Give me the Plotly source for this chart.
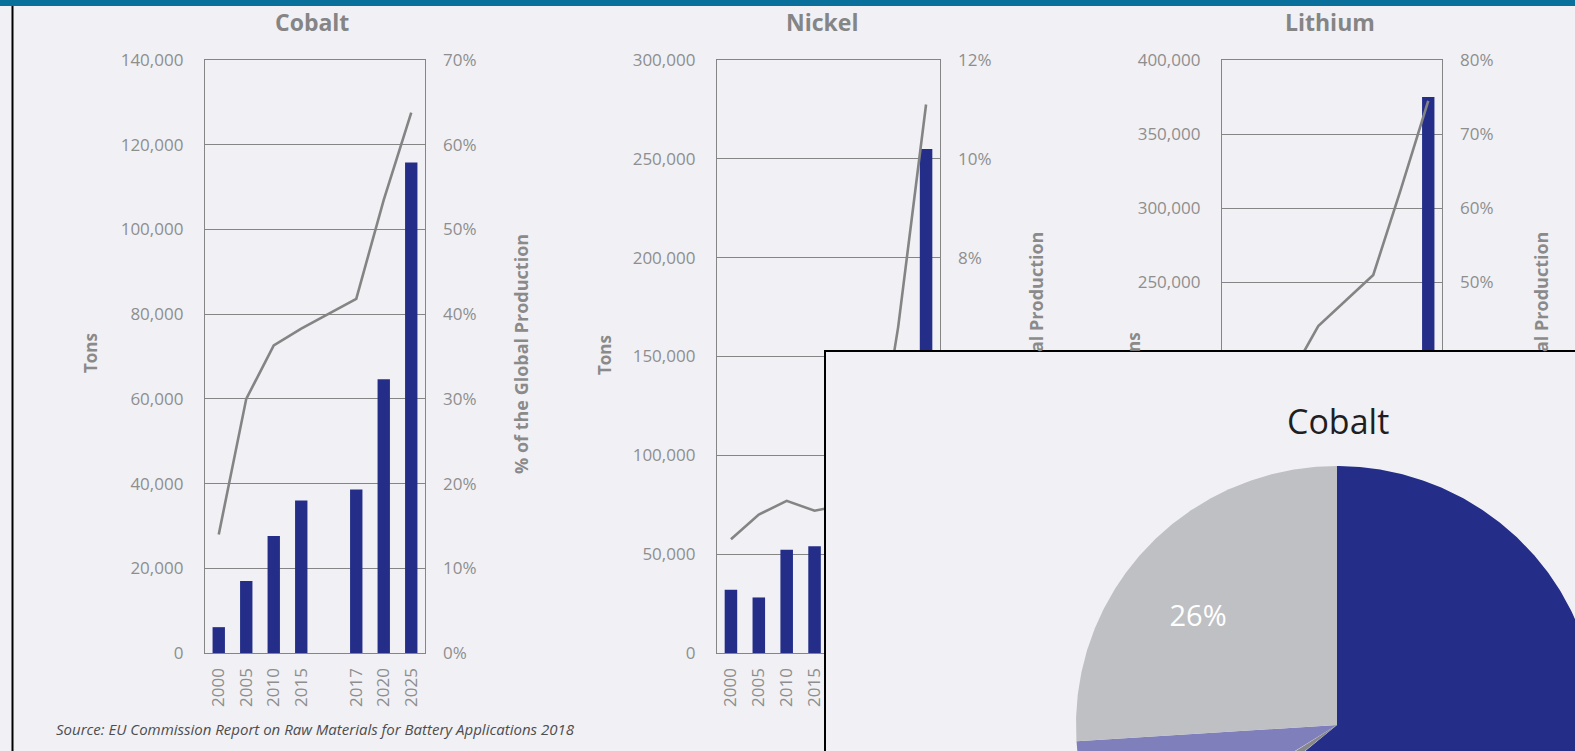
import math
import plotly.graph_objects as go

W, H = 1575, 751
BG = "#f1f1f5"
NAVY = "#242e88"
LINE = "#848484"
GRID = "#858585"
TICK = "#8e8e8e"
FONT = "Open Sans"

# ---------------- data ----------------
years = ["2000", "2005", "2010", "2015", "2017", "2020", "2025"]
categories = ["2000", "2005", "2010", "2015", " ", "2017", "2020", "2025"]

minerals = ["Cobalt", "Nickel", "Lithium"]
cobalt_tons = [6100, 17000, 27600, 36000, 38600, 64600, 115800]
cobalt_share = [14.0, 30.0, 36.3, 38.3, 41.8, 53.5, 63.8]
nickel_tons = [32000, 28100, 52200, 54000, 60000, 115000, 255000]
nickel_share = [2.3, 2.8, 3.08, 2.88, 3.1, 6.6, 11.1]
lithium_tons = [20000, 25000, 30000, 42000, 50000, 110000, 375000]
lithium_share = [20.0, 28.0, 37.5, 44.1, 51.0, 62.5, 74.5]

tons_max = [140000, 300000, 400000]
tons_step = [20000, 50000, 50000]
share_max = [70, 12, 80]
share_step = [10, 2, 10]

pie_title = "Cobalt"
pie_labels = ["Batteries", "Slice B", "Slice C", "Other"]
pie_values = [64, 2, 8, 26]
pie_colors = [NAVY, "#87878a", "#7f80bb", "#bfc0c3"]
pie_label_shown = "Other"

source_text = "Source: EU Commission Report on Raw Materials for Battery Applications 2018"

tons_series = [cobalt_tons, nickel_tons, lithium_tons]
share_series = [cobalt_share, nickel_share, lithium_share]

# ---------------- layout geometry (pixels) ----------------
def px(x):
    return x / W

def py(y):
    return 1 - y / H

plot_x = [(205, 425), (717, 940), (1222, 1442)]
plot_top, plot_bottom = 60, 653
title_x = [312, 822, 1330]

fig = go.Figure()
layout = dict(
    width=W, height=H, margin=dict(l=0, r=0, t=0, b=0, pad=0, autoexpand=False),
    paper_bgcolor=BG, plot_bgcolor=BG, showlegend=False,
    font=dict(family=FONT, color=TICK, size=17),
)

pos_of = {c: i for i, c in enumerate(categories)}
xpos = [pos_of[y] for y in years]

tickfont = dict(size=17, color=TICK, family=FONT)
annotations = []
for i, name in enumerate(minerals):
    xn = i + 1
    yl = 2 * i + 1
    yr = 2 * i + 2
    xs = "" if xn == 1 else str(xn)
    yls = "" if yl == 1 else str(yl)
    yrs = str(yr)
    fig.add_trace(go.Bar(
        x=xpos, y=tons_series[i], marker=dict(color=NAVY, line=dict(width=0)),
        width=0.45, xaxis="x" + xs, yaxis="y" + yls, hoverinfo="skip"))
    fig.add_trace(go.Scatter(
        x=xpos, y=share_series[i], mode="lines",
        line=dict(color=LINE, width=2.6), xaxis="x" + xs, yaxis="y" + yrs,
        hoverinfo="skip"))
    layout["xaxis" + xs] = dict(
        domain=[px(plot_x[i][0]), px(plot_x[i][1])], anchor="y" + yls,
        range=[-0.5, len(categories) - 0.5], tickmode="array",
        tickvals=list(range(len(categories))), ticktext=categories,
        tickangle=-90, ticks="", ticklabelstandoff=7, automargin=False,
        showline=True, mirror=True, linecolor=GRID, linewidth=1.4,
        showgrid=False, zeroline=False, tickfont=tickfont)
    layout["yaxis" + yls] = dict(
        domain=[py(plot_bottom), py(plot_top)], anchor="x" + xs,
        range=[0, tons_max[i]], dtick=tons_step[i], tickformat=",",
        ticks="", ticklabelstandoff=17, showgrid=True, gridcolor=GRID,
        gridwidth=1.4, showline=True, mirror=True, linecolor=GRID,
        linewidth=1.4, zeroline=False, tickfont=tickfont, automargin=False)
    layout["yaxis" + yrs] = dict(
        overlaying="y" + yls, side="right", anchor="x" + xs,
        range=[0, share_max[i]], dtick=share_step[i], ticksuffix="%",
        ticks="", ticklabelstandoff=17, showgrid=False, showline=False,
        zeroline=False, tickfont=tickfont, automargin=False)
    annotations.append(dict(
        text="<b>%s</b>" % name, x=px(title_x[i]), y=py(22), xref="paper",
        yref="paper", showarrow=False, xanchor="center", yanchor="middle",
        font=dict(size=23, color="#858585", family=FONT)))

# axis titles (parts hidden behind the inset are left out)
axis_titles = [
    ("<b>Tons</b>", 91, 353, "middle"),
    ("<b>% of the Global Production</b>", 521, 354, "middle"),
    ("<b>Tons</b>", 604, 355, "middle"),
    ("<b>al Production</b>", 1036, 354, "bottom"),
    ("<b>ns</b>", 1133, 354, "bottom"),
    ("<b>al Production</b>", 1541, 354, "bottom"),
]
for t, x, y, anc in axis_titles:
    size = 17 if "Tons" in t or "ns" in t else 18
    annotations.append(dict(
        text=t, x=px(x), y=py(y), xref="paper", yref="paper", showarrow=False,
        textangle=-90, xanchor="center", yanchor=anc,
        font=dict(size=size, color="#8a8a8a", family=FONT)))

annotations.append(dict(
    text="<i>%s</i>" % source_text, x=px(54), y=py(729), xref="paper",
    yref="paper", showarrow=False, xanchor="left", yanchor="middle",
    font=dict(size=15, color="#4d4d4d", family=FONT)))

# ---------------- inset with the pie ----------------
inset_left, inset_top = 826, 352
layout["xaxis4"] = dict(
    domain=[px(inset_left), 1], anchor="y7", range=[inset_left, W],
    side="top", showline=True, linecolor="black", linewidth=2,
    showticklabels=False, showgrid=False, zeroline=False, ticks="",
    automargin=False)
layout["yaxis7"] = dict(
    domain=[0, py(inset_top)], anchor="x4", range=[H, inset_top],
    side="left", showline=True, linecolor="black", linewidth=2,
    showticklabels=False, showgrid=False, zeroline=False, ticks="",
    automargin=False)

cx, cy, rx, ry = 1337, 725, 261, 259
total = sum(pie_values)
angle = 90.0
label_pos = None
for lab, val, col in zip(pie_labels, pie_values, pie_colors):
    span = 360.0 * val / total
    a0, a1 = angle, angle - span
    n = max(8, int(span * 2))
    xs_, ys_ = [cx], [cy]
    for k in range(n + 1):
        a = math.radians(a0 + (a1 - a0) * k / n)
        xs_.append(cx + rx * math.cos(a))
        ys_.append(cy - ry * math.sin(a))
    xs_.append(cx)
    ys_.append(cy)
    fig.add_trace(go.Scatter(
        x=xs_, y=ys_, mode="lines", fill="toself", fillcolor=col,
        line=dict(width=0, color=col), xaxis="x4", yaxis="y7",
        hoverinfo="skip"))
    if lab == pie_label_shown:
        mid = math.radians((a0 + a1) / 2)
        label_pos = (cx + 0.73 * rx * math.cos(mid), cy - 0.60 * ry * math.sin(mid),
                     "%d%%" % round(100 * val / total))
    angle = a1

fig.add_trace(go.Scatter(
    x=[label_pos[0]], y=[label_pos[1]], mode="text", text=[label_pos[2]],
    textfont=dict(size=29, color="white", family=FONT), xaxis="x4",
    yaxis="y7", hoverinfo="skip"))

annotations.append(dict(
    text=pie_title, x=px(1338), y=py(421), xref="paper",
    yref="paper", showarrow=False, xanchor="center", yanchor="middle",
    font=dict(size=34, color="#1f1f1f", family=FONT)))

layout["annotations"] = annotations
layout["shapes"] = [
    dict(type="rect", xref="paper", yref="paper", x0=0, x1=1, y0=py(6),
         y1=1, fillcolor="#08709b", line=dict(width=0), layer="above"),
    dict(type="line", xref="paper", yref="paper", x0=px(12.5), x1=px(12.5),
         y0=0, y1=py(6), line=dict(color="black", width=2), layer="above"),
]
fig.update_layout(**layout)

fig.write_html("out.html", config={"displayModeBar": False},
               post_script="document.body.style.margin='0px';")
